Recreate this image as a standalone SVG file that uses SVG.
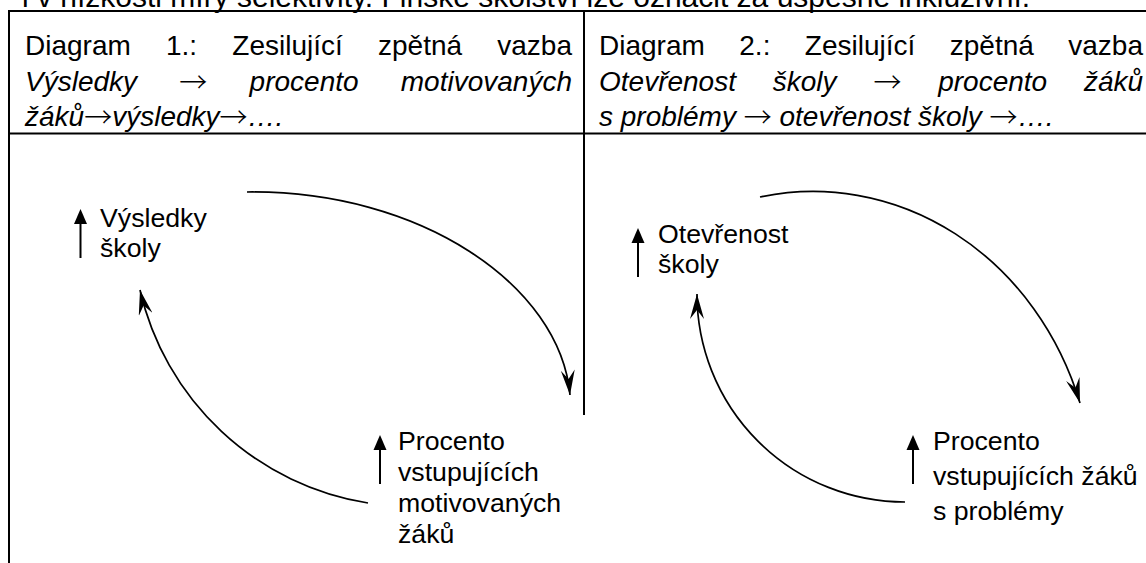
<svg xmlns="http://www.w3.org/2000/svg" xmlns:xlink="http://www.w3.org/1999/xlink" width="1146" height="563" viewBox="0 0 1146 563">
<style>
text{font-family:"Liberation Sans",Arial,sans-serif;fill:#000}
.top{font-size:30px}
.hd{font-size:28px}
.it{font-style:italic}
.ar{font-family:"Noto Sans CJK SC","Noto Sans CJK JP",sans-serif;font-style:normal;font-weight:300}
.nd{font-size:26.7px}
.rule{stroke:#000;stroke-width:2;fill:none}
.arc{stroke:#000;stroke-width:1.7;fill:none;marker-end:url(#ah)}
</style>
<defs>
<marker id="ah" viewBox="0 0 25 14" refX="25" refY="7" markerWidth="25" markerHeight="14" markerUnits="userSpaceOnUse" orient="auto"><path d="M0,0 L25,7 L0,14 L9,7 Z" fill="#000"/></marker>
<g id="up"><path d="M0,0 L6.5,15 L-6.5,15 Z" fill="#000"/><path d="M0,14 V49" stroke="#000" stroke-width="2"/></g>
</defs>
<rect width="1146" height="563" fill="#fff"/>
<text class="top" x="22" y="6.5">i v nízkosti míry selektivity. Finské školství lze označit za úspěšně inkluzivní.</text>
<g id="table">
<path class="rule" d="M8,11 H1146 M9,10 V563 M584,11 V415 M9,133.5 H1146"/>
</g>
<g id="header-1">
<text class="hd" y="55"><tspan x="25">Diagram</tspan><tspan x="166">1.:</tspan><tspan x="232.3">Zesilující</tspan><tspan x="378">zpětná</tspan><tspan x="497.3">vazba</tspan></text>
<text class="hd it"><tspan x="25" y="90.5">Výsledky</tspan><tspan class="ar" x="179.3" y="92.5">→</tspan><tspan x="249.6" y="90.5">procento</tspan><tspan x="400.8" y="90.5">motivovaných</tspan></text>
<text class="hd it" x="25" y="126">žáků<tspan class="ar" dy="2">→</tspan><tspan dy="-2">výsledky</tspan><tspan class="ar" dy="2">→</tspan><tspan dy="-2">….</tspan></text>
</g>
<g id="header-2">
<text class="hd" y="55"><tspan x="599">Diagram</tspan><tspan x="739.3">2.:</tspan><tspan x="804.8">Zesilující</tspan><tspan x="949.8">zpětná</tspan><tspan x="1068.3">vazba</tspan></text>
<text class="hd it"><tspan x="599" y="90.5">Otevřenost</tspan><tspan x="772.8" y="90.5">školy</tspan><tspan class="ar" x="873.4" y="92.5">→</tspan><tspan x="938.2" y="90.5">procento</tspan><tspan x="1083.9" y="90.5">žáků</tspan></text>
<text class="hd it" x="599" y="126">s problémy <tspan class="ar" dy="2">→</tspan><tspan dy="-2"> otevřenost školy </tspan><tspan class="ar" dy="2">→</tspan><tspan dy="-2">….</tspan></text>
</g>
<g id="node-vysledky-skoly">
<use xlink:href="#up" x="80.5" y="209"/>
<text class="nd"><tspan x="100" y="227">Výsledky</tspan><tspan x="100" y="257">školy</tspan></text>
</g>
<g id="node-procento-motivovanych">
<use xlink:href="#up" x="380" y="435"/>
<text class="nd"><tspan x="398" y="450">Procento</tspan><tspan x="398" y="481">vstupujících</tspan><tspan x="398" y="512">motivovaných</tspan><tspan x="398" y="543">žáků</tspan></text>
</g>
<g id="node-otevrenost-skoly">
<use xlink:href="#up" x="638" y="228"/>
<text class="nd"><tspan x="658" y="243">Otevřenost</tspan><tspan x="658" y="273">školy</tspan></text>
</g>
<g id="node-procento-problemy">
<use xlink:href="#up" x="913" y="435"/>
<text class="nd"><tspan x="933" y="450">Procento</tspan><tspan x="933" y="485">vstupujících žáků</tspan><tspan x="933" y="520">s problémy</tspan></text>
</g>
<g id="connectors">
<path class="arc" d="M247,192 C420,190 560,285 570,395"/>
<path class="arc" d="M368,503 A279,279 0 0 1 140,290"/>
<path class="arc" d="M760,197 A281,308 0 0 1 1080,403"/>
<path class="arc" d="M905,502 A208,208 0 0 1 697,294"/>
</g>
</svg>
